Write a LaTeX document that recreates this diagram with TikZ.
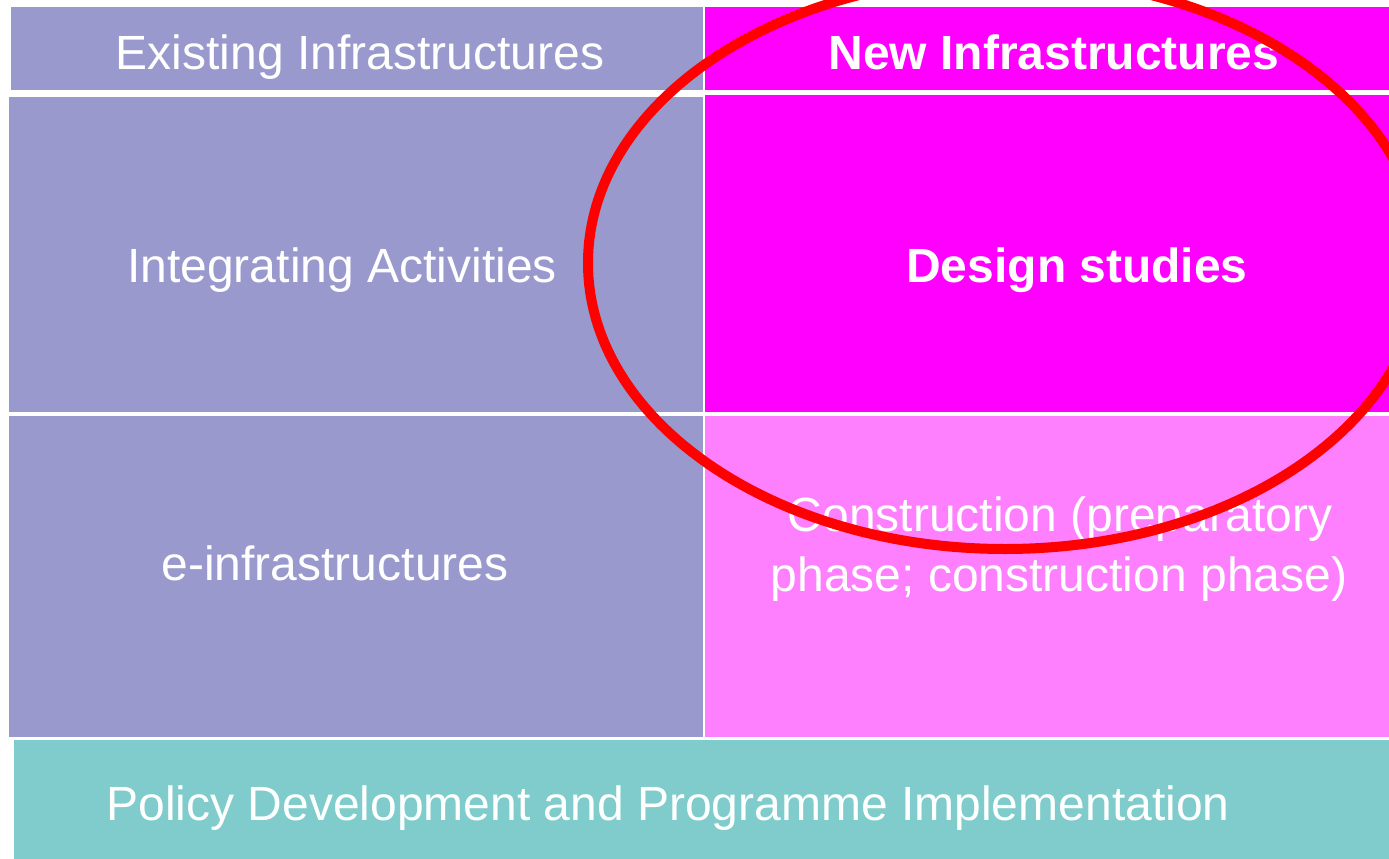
\documentclass[tikz,border=0pt]{standalone}
\usepackage{fontspec}
\setmainfont{Liberation Sans}
\definecolor{blueg}{HTML}{9999CE}
\definecolor{mag}{HTML}{FF00FF}
\definecolor{lpink}{HTML}{FF80FF}
\definecolor{tealc}{HTML}{80CCCC}
\definecolor{ringred}{HTML}{FF0000}
\begin{document}
\begin{tikzpicture}[x=1pt,y=-1pt,
  lbl/.style={text=white,anchor=base,inner sep=0pt,font=\fontsize{48}{60}\selectfont},
  blbl/.style={lbl,font=\fontsize{48}{60}\selectfont\bfseries}]
\useasboundingbox (0,0) rectangle (1389,859);
\fill[white] (0,0) rectangle (1389,859);
% cells
\fill[blueg] (11,7) rectangle (703,90);
\fill[mag] (705,7) rectangle (1389,90);
\fill[blueg] (9,97) rectangle (703,412);
\fill[mag] (705,95) rectangle (1389,412);
\fill[blueg] (9,416) rectangle (703,737);
\fill[lpink] (705,416) rectangle (1389,737);
\fill[tealc] (14,740) rectangle (1389,859);
% labels
\node[lbl] (ex) at (360,70) {Existing Infrastructures};
\node[blbl] (ni) at (1054,70) {New Infrastructures};
\node[lbl] (ia) at (342,282) {Integrating Activities};
\node[blbl] (ds) at (1077,282) {Design studies};
\node[lbl] (ei) at (335,580) {e-infrastructures};
\node[lbl] (c1) at (1060,531) {Construction (preparatory};
\node[lbl] (c2) at (1059,591) {phase; construction phase)};
\node[lbl] (pd) at (668,820) {Policy Development and Programme Implementation};
% ring
\draw[ringred,line width=10pt] (1005,263) ellipse [x radius=417,y radius=286];
\end{tikzpicture}
\end{document}
